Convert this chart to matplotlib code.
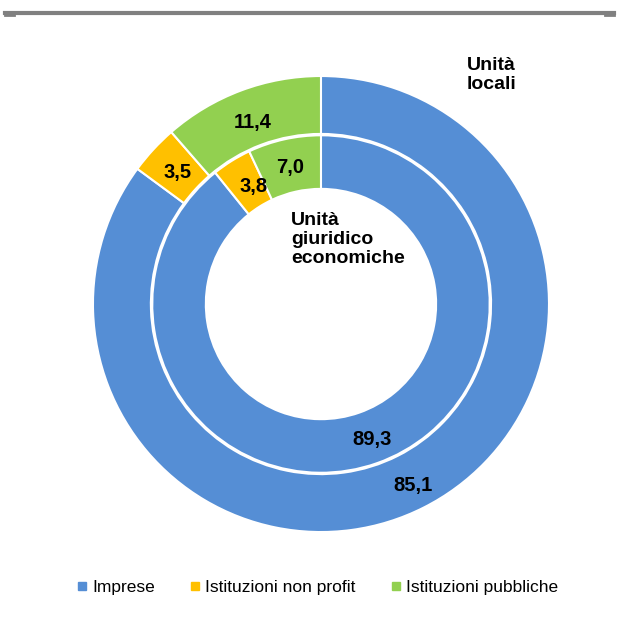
import numpy as np
import matplotlib.pyplot as plt
from matplotlib.lines import Line2D

categorie = ["Imprese", "Istituzioni non profit", "Istituzioni pubbliche"]
unita_locali = [85.1, 3.5, 11.4]
unita_giuridiche = [89.3, 3.8, 7.0]
colori = ["#558ED5", "#FFC000", "#92D050"]

plt.rcParams['font.family'] = ['Liberation Sans', 'DejaVu Sans']

fig = plt.figure(figsize=(6.19, 6.19), dpi=100)
ax = fig.add_axes([0.1502, 0.1405, 0.7367, 0.7367])
ax.set_aspect('equal')

r_out, w_out = 1.0, 0.254
r_in, w_in = 0.74, 0.235

ax.pie(unita_locali, radius=r_out, colors=colori, startangle=90, counterclock=False,
       wedgeprops=dict(width=w_out, edgecolor='white', linewidth=1.5))
ax.pie(unita_giuridiche, radius=r_in, colors=colori, startangle=90, counterclock=False,
       wedgeprops=dict(width=w_in, edgecolor='white', linewidth=1.5))


def etichette(valori, raggi, scarti):
    tot = sum(valori)
    start = 90.0
    for v, r, d in zip(valori, raggi, scarti):
        ang = np.deg2rad(start - v / tot * 180.0 + d)
        ax.text(r * np.cos(ang), r * np.sin(ang), "{:.1f}".format(v).replace(".", ","),
                ha='center', va='center', fontsize=14.5, fontweight='bold', color='black')
        start -= v / tot * 360.0


etichette(unita_locali, [0.89, 0.853, 0.85], [0, 0, 0])
etichette(unita_giuridiche, [0.636, 0.595, 0.612], [1, -2.4, 0])

ax.set_xlim(-1, 1)
ax.set_ylim(-1, 1)

fig.text(467 / 619, 1 - 57 / 619, "Unità\nlocali", ha='left', va='top', fontsize=14,
         fontweight='bold', linespacing=1.15)
fig.text(291 / 619, 1 - 212 / 619, "Unità\ngiuridico\neconomiche", ha='left', va='top',
         fontsize=14, fontweight='bold', linespacing=1.15)

# linea grigia in alto
fig.add_artist(Line2D([5 / 619, 614 / 619], [1 - 13 / 619, 1 - 13 / 619], color='#808080', lw=3))
fig.add_artist(Line2D([5 / 619, 14 / 619], [1 - 14.5 / 619, 1 - 14.5 / 619], color='#808080', lw=2))
fig.add_artist(Line2D([605 / 619, 614 / 619], [1 - 14.5 / 619, 1 - 14.5 / 619], color='#808080', lw=2))

handles = [Line2D([], [], marker='s', linestyle='none', markersize=6, color=c) for c in colori]
fig.legend(handles, categorie, loc='center', bbox_to_anchor=(0.513, 1 - 587 / 619), ncol=3,
           frameon=False, handlelength=0.6, handletextpad=0.3, columnspacing=2.0,
           prop={'size': 12.5})

fig.savefig("out.png", dpi=100)
